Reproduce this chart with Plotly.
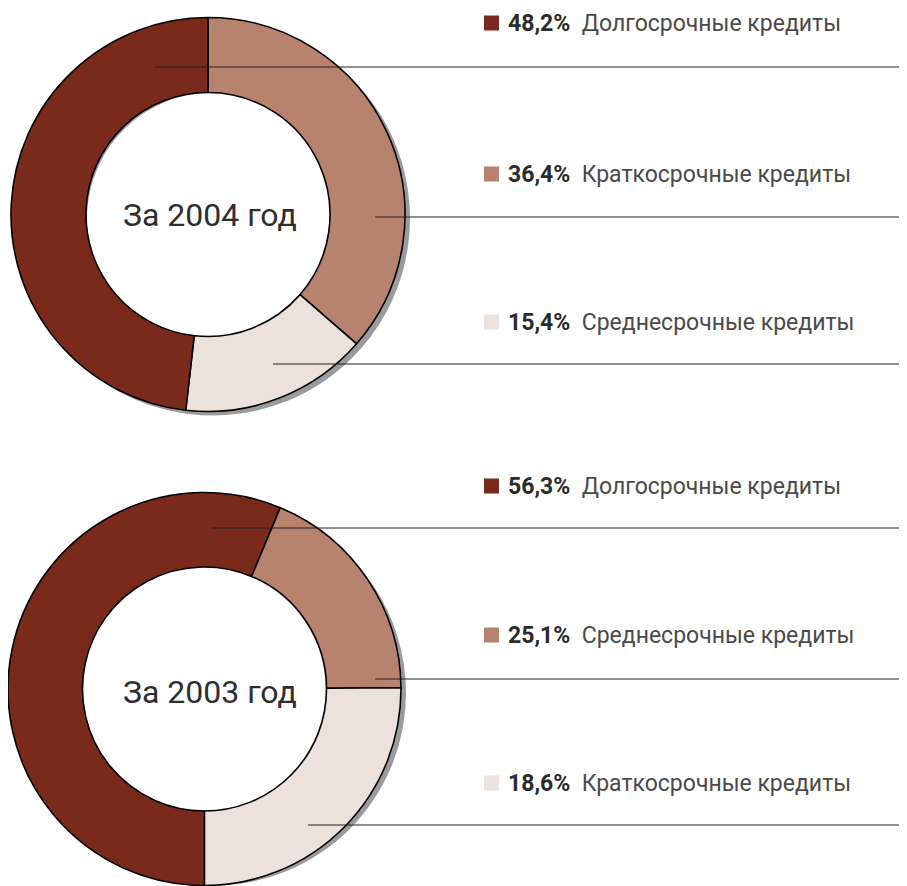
import plotly.graph_objects as go

SCREEN_W, SCREEN_H = 907, 886
OFF = 8  # page body margin
W, H = SCREEN_W - OFF, SCREEN_H - OFF

# ---- data ----
colors = {"dark": "#7a2a1a", "light": "#b7826e", "cream": "#ede2db"}

# slices as drawn (clockwise)
pie2004_values = [36.4, 15.4, 48.2]
pie2004_colors = ["light", "cream", "dark"]
pie2004_rotation = 0

pie2003_values = [56.3, 18.6, 25.1]
pie2003_colors = ["dark", "light", "cream"]
pie2003_rotation = 180

# legend rows
leg2004_pct = ["48,2%", "36,4%", "15,4%"]
leg2004_lbl = ["Долгосрочные кредиты", "Краткосрочные кредиты", "Среднесрочные кредиты"]
leg2004_col = ["dark", "light", "cream"]

leg2003_pct = ["56,3%", "25,1%", "18,6%"]
leg2003_lbl = ["Долгосрочные кредиты", "Среднесрочные кредиты", "Краткосрочные кредиты"]
leg2003_col = ["dark", "light", "cream"]

titles = ["За 2004 год", "За 2003 год"]

# ---- layout geometry (screen pixels) ----
charts = [
    dict(cx=208, cy=214.5, r=197, values=pie2004_values, cols=pie2004_colors, rot=pie2004_rotation,
         pct=leg2004_pct, lbl=leg2004_lbl, lcol=leg2004_col, title=titles[0], tx=210, ty=215,
         rows_y=[23, 174, 322], lines_y=[67, 217, 364], lines_x0=[155, 375, 273]),
    dict(cx=204.5, cy=689, r=196.5, values=pie2003_values, cols=pie2003_colors, rot=pie2003_rotation,
         pct=leg2003_pct, lbl=leg2003_lbl, lcol=leg2003_col, title=titles[1], tx=210, ty=692,
         rows_y=[486, 635, 783], lines_y=[528, 679, 825], lines_x0=[212, 375, 308]),
]
r_in = 122
shadow_dx, shadow_dy = 5, 4


def px(x):
    return (x - OFF) / W


def py(y):
    return 1 - (y - OFF) / H


def dom(cx, cy, r):
    return dict(x=[max(0.0, px(cx - r)), min(1.0, px(cx + r))],
                y=[max(0.0, py(cy + r)), min(1.0, py(cy - r))])


fig = go.Figure()
shapes = []
annotations = []

for c in charts:
    # shadow (kept inside the canvas)
    scx, scy, sr = c["cx"] + shadow_dx, c["cy"] + shadow_dy, c["r"]
    overflow = max(0.0, scy + sr - SCREEN_H + 0.5)
    if overflow > 0:
        sr -= overflow
        scx += overflow
    fig.add_trace(go.Pie(
        values=c["values"], sort=False, direction="clockwise", rotation=c["rot"],
        marker=dict(colors=["#9a9b9e"] * 3, line=dict(width=0)),
        hole=(r_in + 4 + 1.8 * overflow) / sr, textinfo="none", hoverinfo="skip", showlegend=False,
        domain=dom(scx, scy, sr),
    ))
    fig.add_trace(go.Pie(
        values=c["values"], sort=False, direction="clockwise", rotation=c["rot"],
        marker=dict(colors=[colors[k] for k in c["cols"]], line=dict(color="#000000", width=1.6)),
        hole=r_in / c["r"], textinfo="none", showlegend=False,
        domain=dom(c["cx"], c["cy"], c["r"]),
    ))
    annotations.append(dict(
        x=px(c["tx"]), y=py(c["ty"]), xref="paper", yref="paper", showarrow=False,
        text=c["title"], font=dict(family="Roboto", size=32, color="#2e2e2e"),
        xanchor="center", yanchor="middle"))
    for i in range(3):
        ry = c["rows_y"][i]
        shapes.append(dict(type="rect", xref="paper", yref="paper",
                           x0=px(484), x1=px(499), y0=py(ry + 7.5), y1=py(ry - 7.5),
                           fillcolor=colors[c["lcol"][i]], line=dict(width=0), layer="above"))
        annotations.append(dict(
            x=px(506), y=py(ry), xref="paper", yref="paper", showarrow=False,
            text=f"<b>{c['pct'][i]}</b>  <span style='color:#4a4a4a'>{c['lbl'][i]}</span>",
            font=dict(family="Roboto", size=23, color="#2b2b2b"),
            xanchor="left", yanchor="middle"))
        ly = c["lines_y"][i]
        shapes.append(dict(type="line", xref="paper", yref="paper",
                           x0=px(c["lines_x0"][i]), x1=px(925), y0=py(ly), y1=py(ly),
                           line=dict(color="#222222", width=1.2), layer="above"))

fig.update_layout(
    width=W, height=H, margin=dict(l=0, r=0, t=0, b=0),
    paper_bgcolor="white", plot_bgcolor="white",
    shapes=shapes, annotations=annotations, showlegend=False,
)

fig.write_html("out.html")
